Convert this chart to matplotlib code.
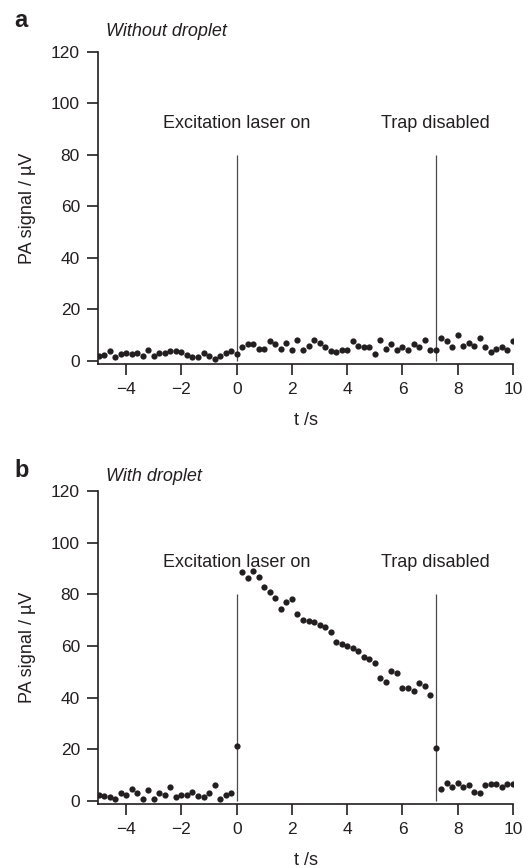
import numpy as np
import matplotlib
matplotlib.use("Agg")
import matplotlib.pyplot as plt

plt.rcParams['font.family'] = ['Liberation Sans', 'DejaVu Sans']

# time axis (s), sampled every 0.2 s
t = np.round(np.arange(76) * 0.2 - 5.0, 2)

# Panel a: without droplet (PA signal, µV)
sig_a = [2.1, 2.2, 3.7, 1.4, 2.7, 3.1, 2.7, 3.1, 1.9, 4.1, 2.1, 3.1, 3.1, 3.7, 3.7,
         3.4, 2.2, 1.5, 1.5, 3.1, 2.1, 0.8, 2.1, 3.1, 3.7,
         2.5,
         5.4, 6.6, 6.6, 4.8, 4.8, 7.6, 6.6, 4.8, 7.1, 4.1, 8.3, 4.1, 5.9,
         8.3, 7.1, 5.4, 3.7, 3.5, 4.1, 4.1, 7.6, 5.9, 5.4, 5.4, 2.5, 8.3, 4.8, 6.6,
         4.1, 5.4, 4.1, 6.6, 5.4, 8.3, 4.1,
         4.1,
         8.9, 7.6, 5.4, 9.9, 5.9, 7.1, 5.9, 8.9, 5.4, 3.4, 4.8, 5.4, 4.1, 7.6]

# Panel b: with droplet (PA signal, µV)
sig_b = [2.45, 1.9, 1.4, 0.65, 3.0, 2.45, 4.8, 3.0, 0.65, 4.1, 0.65, 3.0, 2.45, 5.3, 1.4,
         2.45, 2.45, 3.5, 1.9, 1.4, 3.0, 6.3, 0.65, 2.45, 3.0,
         21.3,
         88.6, 86.2, 89.2, 86.8, 82.7, 81.0, 78.7, 74.2, 77.0, 78.1, 72.4, 70.1, 69.6,
         69.3, 68.0, 67.4, 65.5, 61.7, 60.9, 60.0, 59.4, 58.1, 55.7, 54.8, 53.5, 47.7,
         46.1, 50.3, 49.4, 43.7, 43.7, 42.6, 45.5, 44.5, 40.9,
         20.3,
         4.8, 7.1, 5.3, 7.1, 5.4, 6.1, 3.6, 3.0, 6.1, 6.5, 6.5, 5.3, 6.5, 6.5]

event_t = [0.0, 7.2]
event_labels = ["Excitation laser on", "Trap disabled"]
panel_letters = ["a", "b"]
panel_titles = ["Without droplet", "With droplet"]
yticks = [0, 20, 40, 60, 80, 100, 120]
xticks = [-4, -2, 0, 2, 4, 6, 8, 10]

W, H = 525, 868
fig = plt.figure(figsize=(W / 100, H / 100), dpi=100)
# (left, top, right, bottom) in pixels; letter baseline, title baseline
boxes = [(98, 52, 513, 364), (98, 491, 513, 804)]
letter_base = [27, 477]
title_base = [36, 481]
ink = '#231f20'

for i, (sig, box) in enumerate(zip([sig_a, sig_b], boxes)):
    l, tp, r, b = box
    ax = fig.add_axes([l / W, 1 - b / H, (r - l) / W, (b - tp) / H])
    ax.set_xlim(-5.02, 10.0)
    ax.set_ylim(-1.2, 120)
    ax.vlines(event_t, 0, 80, color='#4a4a4a', lw=0.9, zorder=1)
    ax.plot(t, sig, 'o', color=ink, ms=4.5, mew=0, zorder=3)
    for et, lab in zip(event_t, event_labels):
        ax.text(et, 90.6, lab, ha='center', va='baseline', fontsize=13, color=ink)
    for s in ['top', 'right']:
        ax.spines[s].set_visible(False)
    for s in ['left', 'bottom']:
        ax.spines[s].set_linewidth(1.2)
        ax.spines[s].set_color(ink)
    ax.set_xticks(xticks)
    ax.set_xticklabels(["\u2212" + str(-v) if v < 0 else str(v) for v in xticks])
    ax.set_yticks(yticks)
    ax.tick_params(direction='out', length=8, width=1.2, color=ink,
                   labelsize=12.5, labelcolor=ink, pad=5)
    ax.set_xlabel("t /s", fontsize=13, color=ink, labelpad=11)
    ax.set_ylabel("PA signal / \u00b5V", fontsize=13, color=ink, labelpad=11)
    fig.text(14 / W, 1 - letter_base[i] / H, panel_letters[i], fontsize=17,
             fontweight='bold', ha='left', va='baseline', color=ink)
    fig.text(106 / W, 1 - title_base[i] / H, panel_titles[i], fontsize=13,
             style='italic', ha='left', va='baseline', color=ink)

fig.savefig("out.png", dpi=100)
